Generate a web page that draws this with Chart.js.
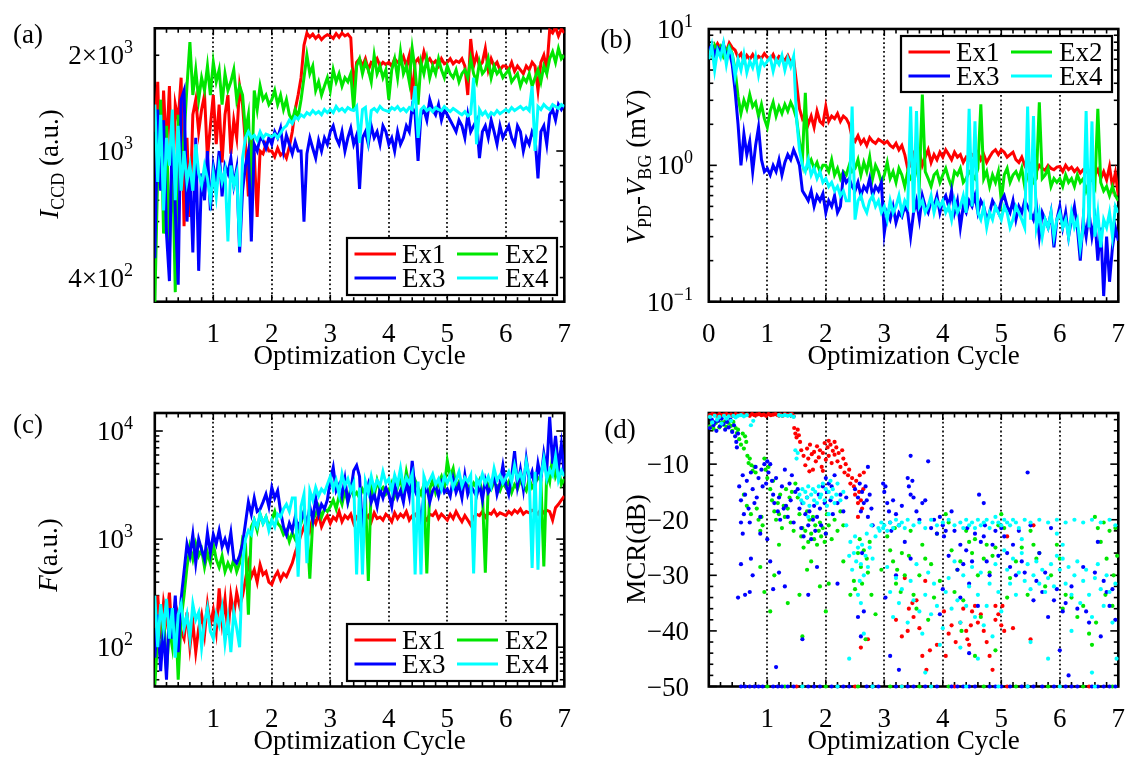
<!DOCTYPE html>
<html><head><meta charset="utf-8">
<script src="https://cdn.jsdelivr.net/npm/chart.js@4/dist/chart.umd.min.js"></script>
<style>
html,body{margin:0;padding:0;background:#fff;}
#wrap{position:relative;width:1127px;height:757px;overflow:hidden;background:#fff;}
.p{position:absolute;}
canvas{display:block;}
</style></head><body>
<div id="wrap">
<div class="p" style="left:0;top:0;width:580px;height:385px"><canvas id="pa" width="580" height="385"></canvas></div>
<div class="p" style="left:580px;top:0;width:547px;height:385px"><canvas id="pb" width="547" height="385"></canvas></div>
<div class="p" style="left:0;top:385px;width:580px;height:372px"><canvas id="pc" width="580" height="372"></canvas></div>
<div class="p" style="left:580px;top:385px;width:547px;height:372px"><canvas id="pd" width="547" height="372"></canvas></div>
</div>
<script>
// ---------- categories ----------
const seriesNames = ['Ex1', 'Ex2', 'Ex3', 'Ex4'];
const cycle = Array.from({length: 141}, (_, i) => Math.round(i * 5) / 100); // optimization cycle, step 0.05
const xTickValues = [0, 1, 2, 3, 4, 5, 6, 7];
const gridCycles = [1, 2, 3, 4, 5, 6];

// ---------- (a) I_CCD (a.u.) ----------
const iccdEx1 = [1150,1650,780,1550,1000,1600,700,1400,1250,1700,
 580,1100,620,1300,1450,1150,1350,1500,950,1200,
 1500,1050,1400,920,1300,1500,980,1250,1100,1600,
 1400,1050,720,1050,980,620,1000,980,1050,1000,
 1000,960,1020,970,990,950,1030,1150,1350,1500,
 1700,2150,2350,2280,2330,2260,2310,2240,2290,2320,
 2300,2260,2340,2280,2350,2300,2330,2270,1550,1900,
 1950,1850,1950,1800,1900,1880,1950,1850,1900,1870,
 1900,1850,1950,1900,1880,1980,1850,2000,1450,1900,
 1950,1850,2050,1900,1950,1880,1920,1850,1950,1880,
 1900,1950,1880,1920,1900,1950,1850,1500,2250,1850,
 2000,1850,1900,2100,1800,1950,1850,1900,1800,1850,
 1850,1800,1900,1780,1850,1800,1750,1850,1800,1900,
 1850,1550,1900,2000,1800,2400,2350,2450,2300,2420,2350];
const iccdEx2 = [330,850,1450,550,1200,480,1000,360,1300,900,
 1100,1600,2200,1500,1800,1450,1700,1550,1850,1500,
 1900,1650,1800,1400,1750,1550,1650,1800,1450,1600,
 1500,1150,1300,740,1550,1350,1600,1450,1500,1400,
 1450,1550,1400,1500,1350,1450,1300,1250,1350,1280,
 1450,1700,2000,1750,1850,1550,1650,1500,1600,1700,
 1550,1800,1650,1750,1600,1700,1650,1750,1350,1850,
 1950,1750,1900,1800,1650,2000,1750,1850,1700,1800,
 1450,1800,1950,1700,2050,1750,1850,1650,2100,1800,
 1400,1900,1750,1950,1700,1850,1750,1950,1800,1700,
 1850,1750,1700,1800,1650,1750,1800,1700,1950,1750,
 1650,1900,1750,1800,1950,1700,1850,1750,1800,1700,
 1750,1800,1650,1700,1750,1600,1700,1650,1750,1600,
 1700,1800,1650,1850,1750,1950,2050,1900,2100,1950,2000];
const iccdEx3 = [460,1350,750,1250,550,390,1300,650,380,1450,
 1550,600,900,480,1100,420,850,700,1000,650,
 900,800,1000,720,900,850,950,780,880,480,
 750,900,1000,520,1050,1000,1100,1080,1020,1100,
 1050,1150,1100,1180,1000,1120,1050,980,1070,1000,
 1000,600,980,1100,1020,950,1080,1000,1100,1050,
 1150,1200,1100,1050,1150,1000,1100,1180,1050,1120,
 760,1100,1150,1050,1200,1100,1150,1050,1200,1150,
 1050,1100,1000,1150,1050,1100,1200,1150,1380,1300,
 930,1300,1350,1250,1450,1350,1300,1400,1250,1350,
 1300,1250,1200,1150,1250,1200,1100,1300,1150,1200,
 1250,950,1150,1200,1100,1250,1150,1050,1200,1100,
 1150,1200,1100,1050,1200,1150,1000,1100,1050,1150,
 1100,820,1150,1200,1050,1300,1350,1250,1400,1350,1400];
const iccdEx4 = [1400,800,1300,650,1100,900,1350,700,1200,750,
 1000,800,900,750,1050,850,780,900,820,700,
 850,720,900,800,870,520,900,780,850,500,
 950,1100,1150,1100,1120,1080,1150,1100,1130,1120,
 1110,1130,1100,1140,1180,1200,1250,1220,1280,1260,
 1300,1280,1320,1300,1340,1310,1330,1300,1350,1320,
 1350,1320,1380,1340,1360,1330,1370,1350,1340,1380,
 1060,1350,1370,1100,1340,1360,1330,1380,1350,1340,
 1330,1370,1350,1380,1340,1360,1330,1370,1350,1600,
 1100,1350,1380,1340,1360,1330,1370,1350,1340,1380,
 1350,1330,1360,1340,1320,1300,1330,1290,1310,1700,
 1050,1350,1300,1330,1280,1320,1300,1340,1310,1330,
 1350,1330,1370,1340,1360,1380,1350,1370,1340,1600,
 1000,1380,1350,1400,1370,1350,1400,1380,1360,1400,1380];

// ---------- (b) V_PD - V_BG (mV) ----------
const vpdEx1 = [6.5,7.5,7.0,7.8,7.2,7.6,6.8,7.9,7.3,7.0,
 6.2,6.6,5.8,6.4,6.0,6.5,5.9,6.3,6.1,6.6,
 6.2,6.0,6.5,5.8,6.3,6.1,5.9,6.4,5.7,6.0,
 4.0,2.6,2.2,2.4,2.0,2.3,1.9,2.5,2.1,2.0,
 2.7,2.1,2.3,2.2,2.4,2.1,2.3,2.2,2.0,1.6,
 1.5,1.65,1.45,1.55,1.4,1.6,1.5,1.45,1.55,1.5,
 1.45,1.5,1.4,1.35,1.45,1.3,1.4,1.2,0.95,1.0,
 1.2,1.05,1.25,1.0,1.15,1.3,1.05,1.2,1.1,1.25,
 1.15,1.3,1.2,1.1,1.25,1.15,1.2,1.05,1.15,1.1,
 1.2,1.15,1.25,1.1,1.2,1.05,1.15,1.25,1.3,1.2,
 1.3,1.25,1.15,1.2,1.25,1.1,1.05,1.15,1.0,1.1,
 1.0,0.95,0.9,1.0,0.95,0.92,1.0,0.95,0.93,0.97,
 0.98,0.9,1.0,0.93,0.97,0.9,0.95,0.88,0.93,0.9,
 0.88,0.95,0.85,0.93,0.8,0.9,0.78,0.98,0.7,0.88,0.6];
const vpdEx2 = [7.2,6.5,7.6,6.8,7.4,6.3,7.0,7.5,6.6,5.0,
 3.2,2.4,3.0,2.6,3.3,2.7,2.9,2.3,2.8,2.2,
 1.9,2.5,2.9,2.3,2.7,2.4,2.8,2.5,2.9,2.6,
 2.2,1.5,1.1,3.4,1.0,1.1,0.95,1.05,0.9,1.0,
 1.0,0.9,1.1,0.85,0.95,0.8,0.9,0.85,1.0,0.9,
 0.95,1.1,0.85,1.05,0.9,1.15,0.8,1.0,0.9,0.75,
 0.85,1.05,0.8,0.9,0.75,0.95,0.85,0.7,0.9,0.8,
 0.85,0.95,0.75,3.3,0.9,0.8,0.7,0.85,0.9,0.75,
 0.85,0.95,0.8,0.7,0.9,0.85,0.95,0.75,0.8,0.9,
 0.85,0.8,0.95,2.8,0.8,0.9,0.7,0.85,0.75,0.9,
 0.55,0.85,0.95,0.75,0.85,0.9,0.8,0.95,0.7,0.85,
 0.9,0.75,0.8,2.9,0.8,0.85,0.95,0.7,0.8,0.75,
 0.8,0.7,0.85,0.75,0.8,0.7,0.85,0.75,0.8,0.65,
 0.75,0.8,0.7,2.6,0.75,0.65,0.7,0.6,0.7,0.6,0.55];
const vpdEx3 = [7.0,7.6,6.5,7.3,6.8,7.8,6.2,7.0,5.5,3.5,
 2.0,1.0,1.7,1.2,1.5,0.9,1.4,1.9,1.1,0.9,
 0.95,0.85,1.0,0.9,1.1,0.85,1.05,1.2,1.1,1.3,
 1.15,1.0,0.65,0.6,0.55,0.65,0.5,0.6,0.55,0.62,
 0.45,0.55,0.5,0.6,0.45,0.5,0.85,0.75,0.8,0.7,
 0.65,0.75,0.6,0.7,0.65,0.8,0.6,0.7,0.65,0.75,
 0.32,0.45,0.4,0.5,0.38,0.45,0.42,0.5,0.45,0.3,
 0.45,0.55,0.4,0.6,0.5,0.45,0.55,0.5,0.6,0.45,
 0.55,0.6,0.5,0.65,0.45,0.55,0.35,0.5,0.45,0.55,
 0.5,0.6,0.45,0.55,0.5,0.4,0.45,0.55,0.5,0.45,
 0.55,0.6,0.5,0.45,0.55,0.4,0.5,0.45,0.55,0.5,
 0.45,0.4,0.5,0.3,0.45,0.4,0.35,0.45,0.25,0.4,
 0.5,0.35,0.45,0.3,0.4,0.5,0.35,0.2,0.4,0.3,
 0.45,0.3,0.4,0.2,0.35,0.11,0.3,0.14,0.25,0.35,0.28];
const vpdEx4 = [6.0,7.5,5.0,7.0,6.2,7.8,5.5,7.2,6.5,4.5,
 6.0,5.0,6.5,4.8,5.8,5.2,6.3,4.6,5.9,5.4,
 5.8,6.2,4.9,6.0,5.5,6.4,5.0,6.1,5.3,6.3,
 2.2,1.3,1.0,0.9,1.1,0.85,0.95,0.8,0.9,0.75,
 0.8,0.7,0.75,0.65,0.7,0.6,0.65,0.55,0.55,2.7,
 0.4,0.55,0.6,0.5,0.45,0.55,0.6,0.5,0.55,0.45,
 0.5,0.4,0.55,0.45,0.5,0.6,0.45,0.55,0.5,2.7,
 0.45,2.5,0.5,0.55,0.45,0.5,0.6,0.45,0.55,0.5,
 0.55,0.45,0.5,0.4,0.55,0.45,0.5,0.6,0.45,2.6,
 0.5,2.1,0.45,0.4,0.5,0.35,0.45,0.4,0.5,0.45,
 0.4,0.5,0.45,0.35,0.4,0.5,0.45,0.4,0.35,2.7,
 0.4,2.3,0.35,0.45,0.3,0.4,0.35,0.45,0.3,0.4,
 0.45,0.35,0.4,0.3,0.45,0.35,0.4,0.25,0.35,2.5,
 0.35,2.1,0.3,0.45,0.25,0.4,0.35,0.45,0.3,0.5,0.45];

// ---------- (c) F (a.u.) ----------
const fEx1 = [150,300,120,260,180,320,110,250,200,140,
 120,210,100,170,90,150,200,130,250,160,
 220,140,350,170,280,130,300,200,320,240,
 300,420,600,450,520,400,580,470,500,400,
 380,450,500,420,480,450,520,600,750,900,
 1100,1300,1500,1200,1600,1400,1700,1300,1500,1650,
 1400,1600,1500,1800,1450,1650,1550,1700,1400,1600,
 1500,1700,1550,1650,1450,1750,1550,1600,1500,1700,
 1600,1450,1750,1550,1700,1600,1800,1500,1650,1700,
 1550,1750,1600,1500,1700,1650,1800,1550,1700,1600,
 1500,1700,1550,1800,1600,1450,1650,1500,1350,1600,
 1700,1650,1800,1600,1750,1700,1850,1650,1750,1700,
 1650,1800,1700,1850,1750,1900,1700,1800,1750,1850,
 1800,1700,1900,1750,1850,1800,1500,1950,2100,2300,2500];
const fEx2 = [45,120,80,200,60,150,100,230,50,180,
 300,550,850,650,900,700,800,550,750,600,
 900,650,550,700,500,600,520,650,500,600,
 1000,900,200,1300,1500,1200,1700,1400,1600,1300,
 1500,1800,1400,1300,1100,1200,950,1150,1000,1200,
 1400,1800,1300,430,1500,1700,2000,1600,1900,1800,
 2000,2300,1900,2500,2100,2800,2200,3000,2500,2700,
 2400,2900,2600,410,3200,2500,3500,2800,3000,2600,
 2800,3300,2500,3000,3600,2700,4200,3100,2800,3500,
 3000,2600,3200,480,2900,3500,2700,3300,3800,3000,
 5300,3800,4500,3000,3400,2800,3600,3100,2900,3300,
 3000,3500,2700,490,3200,2900,3400,3100,2800,3300,
 3000,3400,2700,3200,2900,3500,3100,2800,3600,3000,
 3300,3700,3500,560,4200,3400,5800,3800,4500,3200,3600];
const fEx3 = [80,200,60,150,50,230,120,300,90,280,
 500,900,700,1100,600,1000,800,650,1150,750,
 1100,900,1200,850,1000,800,1150,650,600,700,
 900,1400,2200,1700,2400,1800,1900,2200,2600,2000,
 3000,2400,2800,1800,1300,1100,1400,1200,1600,1300,
 1500,1800,1300,2000,1500,2400,1700,2100,1900,2300,
 3500,4600,2800,3200,2500,3600,2200,2800,4300,4800,
 3800,1150,2500,3200,2200,2600,2000,2900,2400,3000,
 2600,2000,3200,2400,2800,2200,3400,2500,5300,2800,
 2400,1300,2600,3000,2200,2800,3100,2500,3300,2700,
 2900,2500,3600,2700,3200,2400,3900,2600,3100,2800,
 2500,3200,2300,3500,2700,3000,4000,2600,3300,4800,
 3200,2600,3800,6500,3100,4400,2900,5500,3500,4200,
 3000,5000,3600,6200,4300,13500,5000,9000,4500,7500,4000];
const fEx4 = [300,100,250,150,280,120,230,80,200,250,
 150,200,120,250,180,210,100,170,230,140,
 120,200,160,230,110,180,90,210,150,100,
 600,1000,1200,1100,1500,1300,1700,1400,1600,1200,
 1500,1300,1700,1600,1900,2100,1800,2400,2400,450,
 2000,2600,600,2800,2300,3000,2500,2900,2700,3200,
 3800,2900,3500,2600,4000,3100,3600,2800,3300,470,
 3000,470,3400,2700,3800,2900,3500,3100,4200,3300,
 3600,2800,3900,3200,4500,3000,3700,3300,4000,470,
 3400,470,3800,3100,3500,4000,3200,3600,2900,3800,
 3300,3900,3000,3500,4200,3100,3700,3400,3900,480,
 3600,3200,4000,3300,3800,3100,4500,3500,3900,3300,
 3700,4200,3400,4800,3600,4100,3300,5200,3800,540,
 4200,520,3800,5500,3600,4400,3900,5800,3500,4300,3800];

// ---------- (d) MCR (dB), [cycle, dB] ----------
const mcrEx1 = [[0.02,-1.2],[0.06,-1.0],[0.1,-1.1],[0.14,-1.3],[0.18,-1.0],[0.22,-1.2],[0.26,-1.1],[0.3,-1.0],[0.34,-1.2],[0.38,-1.1],[0.42,-1.3],[0.46,-1.0],[0.5,-1.2],[0.54,-1.1],[0.58,-1.0],[0.62,-1.2],[0.66,-1.1],[0.7,-1.3],[0.74,-1.0],[0.78,-1.2],[0.82,-1.1],[0.86,-1.0],[0.9,-1.2],[0.94,-1.1],[0.98,-1.3],[1.02,-1.0],[1.06,-1.2],[1.1,-1.1],[1.14,-1.0],[1.18,-1.2],[1.22,-1.1],[1.26,-1.3],[1.3,-1.0],[1.34,-1.2],[1.38,-1.1],[1.42,-1.0],[1.45,-1.4],
 [1.46,-3.5],[1.48,-4.5],[1.5,-5.2],[1.52,-3.8],[1.54,-4.8],[1.56,-6.0],[1.58,-7.5],
 [1.62,-8.5],[1.65,-10.2],[1.68,-7.2],[1.7,-9.0],[1.73,-6.5],[1.76,-8.2],[1.78,-11.0],[1.8,-7.8],[1.83,-9.5],[1.85,-6.8],[1.88,-8.8],[1.9,-7.5],[1.93,-10.5],[1.95,-8.0],[1.98,-6.2],[2.0,-9.2],[2.03,-7.0],[2.05,-8.5],[2.08,-6.5],[2.1,-9.8],[2.12,-7.6],[2.15,-8.3],[2.18,-7.0],[2.2,-9.5],[2.22,-8.0],[2.25,-10.5],[2.28,-7.5],[2.3,-9.0],[2.32,-11.5],[2.34,-10.0],[1.72,-11.3],[1.95,-11.2],[2.05,-5.8],[2.15,-6.0],
 [2.38,-12.0],[2.4,-11.0],[2.42,-13.5],[2.45,-12.5],[2.48,-14.0],[2.5,-15.5],[2.52,-13.0],[2.55,-17.0],[2.57,-15.0],[2.6,-16.5],[2.62,-18.0],[2.64,-14.5],[2.55,-19.5],[2.58,-12.0],[2.65,-11.5],
 [2.6,-43],[2.72,-41.5],[3.2,-38],[3.42,-36],[3.48,-35],[3.5,-37.5],[3.55,-34.5],[3.6,-39.5],[3.65,-44.5],[3.72,-47],[3.78,-43.5],[3.3,-41],[3.4,-40],[4.02,-36.5],[4.1,-40.5],[4.15,-39],[4.22,-42],[4.3,-38.5],[4.35,-36],[4.4,-40],[4.42,-41.5],[4.48,-39],[4.5,-36.5],[4.55,-35.5],[4.6,-38.5],[4.65,-37],[4.7,-40],[4.75,-42],[4.8,-44.5],[4.85,-47],[4.9,-38],[4.95,-37],[5.0,-39],[5.05,-40],[5.2,-39.5],[5.5,-41.5],[3.9,-42.5],[4.45,-42.5],[4.05,-44.5],[5.02,-35.5],[4.9,-35.5],[5.55,-21],[5.1,-23],[3.7,-31],[3.35,-30.5],
 [1.5,-50],[2.5,-50],[3.3,-50],[4.2,-50],[5.1,-50],[6.5,-50]];
const mcrEx2 = [[0.02,-3.2],[0.05,-2.4],[0.08,-3.6],[0.12,-2.6],[0.15,-2.2],[0.18,-3.4],[0.22,-2.5],[0.25,-2.9],[0.28,-2.3],[0.3,-3.3],[0.34,-2.6],[0.38,-3.1],[0.4,-4.0],[0.42,-2.4],[0.46,-3.5],[0.48,-4.4],[0.5,-3.8],
 [0.52,-5.5],[0.55,-6.5],[0.58,-4.5],[0.6,-7.2],[0.62,-5.0],[0.64,-6.0],[0.66,-8.5],[0.68,-9.8],[0.7,-9.0],[0.73,-10.2],[0.75,-11.2],[0.78,-10.5],[0.8,-11.5],[0.6,-15.5],[0.65,-17.5],[0.72,-19.0],
 [0.82,-18],[0.85,-20],[0.88,-22],[0.9,-19.5],[0.92,-21],[0.95,-9.0],[0.97,-11.0],[1.0,-12.5],[1.02,-10.5],[1.05,-14.5],[1.08,-16.5],[1.1,-13.0],[1.12,-18.5],[1.15,-20.0],[1.18,-17.0],[1.2,-19.0],[1.22,-15.5],[1.25,-21.5],[1.28,-17.5],[1.3,-19.5],[1.32,-14.5],[1.35,-18.0],[1.38,-16.0],[1.4,-20.5],[1.42,-15.0],[1.45,-22.0],[1.48,-13.5],[0.88,-28.5],[0.95,-33.0],[1.05,-36.5],[1.12,-30.0],[1.2,-24.5],[1.35,-35.0],
 [1.52,-16.0],[1.55,-19.0],[1.58,-23.0],[1.6,-21.5],[1.62,-25.0],[1.65,-22.0],[1.68,-18.5],[1.7,-24.0],[1.72,-20.0],[1.75,-22.5],[1.78,-19.5],[1.8,-23.5],[1.82,-21.0],[1.85,-24.5],[1.88,-22.0],[1.9,-20.5],[1.92,-23.0],[1.95,-21.5],[1.98,-24.0],[2.0,-22.5],[2.02,-19.0],[2.05,-21.0],[2.1,-23.5],[2.15,-20.0],[2.2,-22.0],[2.25,-18.5],[2.3,-21.0],[1.55,-33.5],[1.6,-41.0],[1.68,-29.0],[1.9,-32.0],[2.0,-36.5],[2.05,-31.5],[2.3,-27.5],[1.75,-27.5],
 [2.42,-33.5],[2.48,-31.0],[2.55,-26.0],[2.6,-28.5],[2.65,-25.5],[2.7,-27.0],[2.72,-29.5],[2.75,-24.0],[2.68,-41.5],[2.5,-32.5],[2.78,-33.5],[2.85,-37.0],[2.95,-29.0],[2.58,-23.5],[2.62,-31.5],
 [3.05,-23.0],[3.1,-25.5],[3.15,-27.5],[3.2,-31.5],[3.18,-21.5],[3.22,-29.0],[3.28,-33.0],[3.3,-26.0],[3.35,-30.0],[3.42,-26.5],[3.45,-22.0],[3.5,-33.5],[3.55,-36.0],[3.6,-30.0],[3.65,-24.5],[3.7,-27.0],[3.75,-38.0],[3.8,-28.0],[3.85,-34.0],[3.9,-22.5],[3.95,-31.0],
 [4.05,-19.0],[4.1,-20.5],[4.15,-25.5],[4.2,-33.0],[4.25,-29.0],[4.3,-27.5],[4.35,-34.5],[4.4,-22.0],[4.45,-24.0],[4.5,-26.0],[4.55,-23.5],[4.6,-30.0],[4.65,-37.5],[4.7,-27.0],[4.75,-24.5],[4.8,-29.5],[4.85,-26.5],[4.9,-25.0],[4.95,-21.0],[5.0,-19.0],[4.32,-40.0],[4.55,-44.5],[4.9,-43.5],
 [5.05,-21.5],[5.1,-34.0],[5.15,-30.5],[5.25,-27.5],[5.35,-25.0],[5.45,-33.5],[5.5,-22.0],[5.55,-24.5],[5.6,-27.0],[5.65,-26.0],[5.75,-32.0],[5.85,-30.0],[5.95,-24.5],[6.0,-27.0],[6.05,-36.0],[6.1,-33.5],[6.2,-34.0],[6.3,-37.5],[6.4,-35.5],[6.5,-40.5],[6.55,-42.5],[6.6,-19.5],[6.65,-21.5],[6.7,-24.0],[6.75,-20.5],[6.8,-27.0],[6.85,-22.0],[6.9,-35.5],[6.95,-21.5],[6.98,-26.5],[6.92,-30.0],[6.78,-33.5],[6.62,-38.5],
 [1.0,-50],[1.3,-50],[2.0,-50],[2.55,-50],[3.1,-50],[3.6,-50],[4.1,-50],[4.7,-50],[5.25,-50],[5.8,-50],[6.4,-50],[6.9,-50]];
const mcrEx3 = [[0.02,-3.5],[0.05,-2.0],[0.08,-3.0],[0.1,-2.5],[0.13,-4.0],[0.16,-2.2],[0.19,-3.2],[0.22,-1.8],[0.25,-2.8],[0.28,-3.8],[0.31,-2.4],[0.34,-3.4],[0.37,-2.0],[0.4,-4.2],[0.43,-3.0],[0.45,-5.0],[0.47,-6.0],[0.48,-7.0],[0.5,-4.5],
 [0.52,-14.0],[0.55,-16.5],[0.58,-12.0],[0.6,-19.0],[0.62,-15.5],[0.65,-13.0],[0.68,-18.0],[0.7,-20.5],[0.72,-11.5],[0.75,-14.5],[0.78,-17.0],[0.8,-10.5],[0.82,-16.0],[0.85,-12.5],[0.88,-19.5],[0.9,-11.0],[0.92,-14.0],[0.95,-10.0],[0.98,-13.5],[0.55,-20.5],[0.58,-22.5],[0.5,-34.0],[0.62,-33.5],[0.7,-33.0],[0.75,-30.0],[0.72,-27.0],[0.55,-28.0],[0.88,-22.5],
 [1.0,-9.5],[1.02,-11.5],[1.05,-10.0],[1.08,-13.0],[1.1,-15.5],[1.12,-17.0],[1.15,-12.5],[1.18,-18.5],[1.2,-16.0],[1.22,-20.0],[1.25,-14.0],[1.28,-18.0],[1.3,-11.0],[1.32,-17.5],[1.35,-19.5],[1.38,-13.5],[1.4,-16.5],[1.42,-12.0],[1.45,-20.5],[1.48,-15.0],[1.0,-23.5],[1.05,-27.5],[1.1,-32.5],[1.15,-46.5],[1.3,-32.0],[1.2,-29.5],
 [1.52,-14.5],[1.55,-18.0],[1.58,-21.5],[1.6,-17.0],[1.62,-23.0],[1.65,-19.0],[1.68,-16.0],[1.7,-21.0],[1.72,-18.5],[1.75,-23.5],[1.78,-20.0],[1.8,-17.5],[1.82,-22.0],[1.85,-19.5],[1.88,-15.5],[1.9,-18.0],[1.92,-21.0],[1.95,-14.0],[1.98,-17.0],[2.0,-12.5],[2.02,-15.0],[2.05,-13.5],[2.08,-16.5],[2.1,-14.0],[2.12,-19.0],[2.15,-12.0],[2.2,-17.0],[2.25,-15.5],[2.3,-18.5],[2.35,-16.0],[1.6,-41.5],[1.7,-33.5],[1.85,-28.5],[2.2,-31.5],[2.0,-22.5],
 [2.5,-14.5],[2.55,-16.0],[2.58,-13.5],[2.6,-18.5],[2.62,-15.0],[2.65,-17.0],[2.68,-14.0],[2.7,-16.5],[2.72,-19.5],[2.75,-15.5],[2.78,-18.0],[2.8,-21.0],[2.72,-10.5],[2.62,-26.0],[2.55,-37.5],[2.6,-41.0],[2.65,-36.5],
 [2.98,-13.5],[3.0,-15.0],[3.02,-14.0],[3.05,-17.0],[3.08,-18.5],[3.1,-20.5],[3.12,-22.0],[3.15,-16.5],[3.2,-19.0],[3.25,-21.0],[3.3,-17.5],[3.35,-24.0],[3.4,-12.5],[3.42,-14.0],[3.45,-15.5],[3.48,-13.0],[3.5,-16.0],[3.45,-8.5],[3.55,-18.5],[3.6,-20.0],[3.65,-17.0],[3.7,-16.5],[3.75,-9.5],[3.02,-34.0],[3.1,-44.5],[3.25,-47.0],[3.2,-30.0],[3.45,-27.0],
 [3.8,-21.5],[3.85,-20.0],[3.9,-22.5],[3.95,-19.5],[4.0,-21.0],[4.02,-23.0],[4.05,-22.0],[4.1,-26.5],[4.15,-18.5],[4.2,-22.0],[4.25,-29.0],[4.3,-24.5],[4.35,-28.0],[4.4,-25.5],[4.42,-21.5],[4.45,-31.5],[4.5,-27.5],[4.55,-22.5],[4.6,-35.5],[4.65,-24.0],[4.7,-23.0],[4.72,-21.0],[4.75,-27.5],[4.8,-30.0],[4.85,-24.5],[4.9,-22.0],[4.95,-26.5],[5.0,-21.5],[4.0,-32.5],[4.3,-34.0],[4.45,-44.0],[4.62,-15.5],[4.7,-17.0],[3.95,-37.0],
 [5.05,-23.0],[5.1,-26.0],[5.15,-28.5],[5.2,-24.5],[5.25,-30.0],[5.3,-22.0],[5.35,-27.5],[5.45,-11.5],[5.5,-21.0],[5.55,-34.5],[5.6,-31.0],[5.65,-26.0],[5.7,-33.0],[5.75,-29.5],[5.8,-37.5],[5.9,-34.5],[5.95,-32.5],[6.0,-43.5],[6.05,-36.5],[6.1,-35.0],[6.15,-48.0],[6.2,-32.0],[6.3,-36.0],[6.45,-36.5],[6.5,-38.5],[6.6,-29.5],[6.65,-24.0],[6.7,-41.0],[6.75,-31.0],[6.8,-33.0],[6.85,-35.5],[6.9,-32.5],[6.95,-38.0],[5.4,-29.5],[5.85,-21.5],[6.4,-28.5],
 [0.55,-50],[0.62,-50],[0.7,-50],[0.78,-50],[0.85,-50],[0.92,-50],[1.1,-50],[1.18,-50],[1.25,-50],[1.35,-50],[1.45,-50],[1.7,-50],[1.8,-50],[1.9,-50],[2.1,-50],[2.2,-50],[2.3,-50],[2.4,-50],[2.7,-50],[2.8,-50],[2.9,-50],[3.2,-50],[3.4,-50],[3.5,-50],[3.7,-50],[3.9,-50],[4.15,-50],[4.25,-50],[4.35,-50],[4.45,-50],[4.55,-50],[4.8,-50],[4.9,-50],[5.0,-50],[5.15,-50],[5.35,-50],[5.45,-50],[5.55,-50],[5.7,-50],[5.9,-50],[6.1,-50],[6.2,-50],[6.3,-50],[6.55,-50],[6.65,-50],[6.75,-50],[6.85,-50],[6.95,-50]];
const mcrEx4 = [[0.02,-1.5],[0.06,-2.5],[0.1,-1.3],[0.14,-2.0],[0.18,-1.5],[0.22,-2.7],[0.26,-1.3],[0.3,-1.8],[0.34,-1.4],[0.38,-2.2],[0.42,-1.3],[0.46,-1.6],[0.5,-1.3],[0.55,-1.2],[0.6,-1.4],[0.65,-1.2],[0.72,-3.0],[0.76,-2.2],[1.2,-1.2],[1.25,-1.3],[1.3,-1.2],[1.35,-1.3],[1.4,-1.2],[1.45,-1.5],
 [1.48,-7.5],[1.5,-9.0],[1.52,-8.0],
 [1.55,-15.5],[1.58,-16.5],[1.6,-14.5],[1.62,-17.0],[1.65,-15.0],[1.68,-16.0],[1.7,-14.0],[1.72,-17.5],[1.75,-15.5],[1.78,-14.5],[1.8,-16.5],[1.82,-15.0],[1.85,-17.0],[1.88,-14.0],[1.9,-16.0],[1.92,-15.5],[1.95,-13.5],[1.98,-16.5],[2.0,-14.5],[2.02,-17.5],[2.05,-15.0],[2.08,-13.0],[2.1,-16.0],[2.12,-14.5],[2.15,-17.0],[2.18,-15.5],[2.2,-13.5],[2.25,-16.5],[2.3,-15.0],[2.05,-19.0],[1.7,-19.5],
 [2.35,-21.0],[2.4,-26.5],[2.42,-24.0],[2.45,-29.0],[2.48,-26.0],[2.5,-23.0],[2.52,-27.5],[2.55,-25.0],[2.58,-31.0],[2.6,-28.0],[2.62,-24.5],[2.65,-30.0],[2.68,-26.5],[2.7,-22.5],[2.72,-28.5],[2.75,-25.0],[2.78,-21.0],[2.8,-27.0],[2.85,-23.0],[2.9,-21.5],[2.92,-22.0],[2.95,-20.5],[2.98,-21.5],[2.4,-45.0],[2.55,-33.5],[2.6,-35.0],[2.65,-40.5],
 [3.0,-21.0],[3.05,-22.0],[3.1,-20.5],[3.15,-21.5],[3.2,-20.0],[3.25,-21.0],[3.3,-20.5],[3.35,-21.5],[3.4,-20.0],[3.5,-21.0],[3.6,-20.5],[3.7,-21.5],[3.8,-20.0],[3.9,-21.0],[4.0,-20.5],[4.1,-20.0],[4.2,-21.0],[4.3,-20.5],[4.35,-21.5],[4.4,-20.0],[4.45,-21.0],[4.5,-20.5],[4.55,-21.5],[4.6,-20.0],[4.65,-21.0],[4.7,-20.5],[4.75,-20.0],[4.8,-21.5],[4.85,-20.5],[4.9,-19.5],[4.95,-20.5],[5.0,-21.0],[5.05,-20.0],[5.1,-20.5],[5.15,-21.0],[5.2,-20.0],[5.25,-20.5],[5.3,-21.5],[5.4,-20.0],[5.5,-20.5],[5.65,-20.0],[5.8,-20.5],[5.95,-20.0],[6.1,-20.5],[6.25,-20.0],[6.4,-20.5],[6.55,-20.0],[6.7,-20.5],[6.85,-20.0],[6.95,-21.0],
 [3.05,-28.5],[3.1,-33.0],[3.15,-37.5],[3.2,-30.5],[3.25,-35.0],[3.3,-32.5],[3.4,-38.5],[3.45,-31.0],[3.5,-34.5],[3.55,-28.0],[3.6,-36.5],[3.65,-40.5],[3.7,-33.5],[3.75,-29.5],[3.8,-37.0],[3.85,-31.5],[3.9,-35.5],[3.95,-42.5],[4.0,-39.5],[4.05,-33.0],[4.1,-30.5],[4.15,-36.0],[4.2,-27.5],[4.25,-34.5],[4.3,-38.5],[4.35,-30.0],[4.4,-35.5],[4.45,-32.0],[4.5,-28.5],[4.55,-37.5],[4.6,-33.5],[4.65,-29.5],[4.7,-39.0],[4.75,-35.5],[4.8,-31.5],[4.85,-41.0],[4.9,-28.0],[4.95,-33.0],[5.0,-36.5],[5.05,-25.5],[5.1,-29.0],[5.15,-31.5],[5.2,-27.0],[5.25,-33.5],[5.3,-29.5],[5.35,-26.0],[5.4,-31.0],[5.45,-28.0],[5.5,-32.5],[5.55,-30.0],[5.6,-27.5],[5.65,-31.5],[5.7,-29.0],[5.75,-33.0],[5.8,-30.5],[5.85,-28.0],[5.9,-32.0],[5.95,-26.5],[6.0,-29.0],[6.05,-27.0],[6.1,-31.5],[6.15,-28.5],[6.2,-33.5],[6.25,-30.0],[6.3,-27.5],[6.35,-35.0],[6.4,-31.0],[6.45,-29.0],[6.5,-33.5],[6.55,-37.5],[6.6,-30.5],[6.65,-28.0],[6.7,-32.5],[6.75,-35.5],[6.8,-30.0],[6.85,-33.0],[6.9,-38.5],[6.95,-31.5],[3.7,-47.5],[4.6,-45.0],[5.8,-45.0],[6.55,-47.5],[6.97,-45.0],[4.3,-43.0],[5.5,-42.0],[6.2,-40.0],[5.35,-23.5],[6.05,-24.5],[5.95,-22.5],
 [1.6,-50],[2.2,-50],[2.8,-50],[3.3,-50],[3.8,-50],[4.4,-50],[4.95,-50],[5.45,-50],[6.0,-50],[6.6,-50]];

// ---------- rendering ----------
const COLORS = ['#ff0000', '#00e600', '#0000ff', '#00ffff'];
const SERIF = "'Liberation Serif', 'Times New Roman', serif";
const fnt = (s, it) => (it ? 'italic ' : '') + s + 'px ' + SERIF;
const BASE = 27, SMALL = 18;
function runW(ctx, runs) { let w = 0; for (const r of runs) { ctx.font = fnt(r.sub || r.sup ? SMALL : BASE, r.it); w += ctx.measureText(r.t).width; } return w; }
function runDraw(ctx, runs, x, y) { for (const r of runs) { ctx.font = fnt(r.sub || r.sup ? SMALL : BASE, r.it); const dy = r.sub ? 6 : (r.sup ? -11 : 0); ctx.fillText(r.t, x, y + dy); x += ctx.measureText(r.t).width; } }
const sup = (a, b) => [{t: a}, {t: b, sup: 1}];
const range = (a, b, s) => { const r = []; for (let v = a; v <= b + 1e-9; v += s) r.push(Math.round(v * 1000) / 1000); return r; };

const DECO = {
  pa: { label: '(a)', labelPos: [28, 36], title: [{t: 'I', it: 1}, {t: 'CCD', sub: 1}, {t: ' (a.u.)'}], titlePos: [49, 164],
        yLabels: [{v: 400, r: sup('4×10', '2')}, {v: 1000, r: sup('10', '3')}, {v: 2000, r: sup('2×10', '3')}], yLabelRight: 133,
        yMajor: [1000], yMinor: [400, 500, 600, 700, 800, 900, 2000], legend: {left: 347, top: 238, w: 210, h: 57} },
  pb: { label: '(b)', labelPos: [36, 41], title: [{t: 'V', it: 1}, {t: 'PD', sub: 1}, {t: '-'}, {t: 'V', it: 1}, {t: 'BG', sub: 1}, {t: ' (mV)'}], titlePos: [56, 167],
        yLabels: [{v: 0.1, r: sup('10', '−1')}, {v: 1, r: sup('10', '0')}, {v: 10, r: sup('10', '1')}], yLabelRight: 113,
        yMajor: [0.1, 1, 10], yMinor: [0.2, 0.3, 0.4, 0.5, 0.6, 0.7, 0.8, 0.9, 2, 3, 4, 5, 6, 7, 8, 9], legend: {left: 321, top: 36, w: 211, h: 56} },
  pc: { label: '(c)', labelPos: [28, 41], title: [{t: 'F', it: 1}, {t: '(a.u.)'}], titlePos: [48, 170],
        yLabels: [{v: 100, r: sup('10', '2')}, {v: 1000, r: sup('10', '3')}, {v: 10000, r: sup('10', '4')}], yLabelRight: 133,
        yMajor: [100, 1000, 10000], yMinor: [50, 60, 70, 80, 90, 200, 300, 400, 500, 600, 700, 800, 900, 2000, 3000, 4000, 5000, 6000, 7000, 8000, 9000], legend: {left: 347, top: 239, w: 210, h: 57} },
  pd: { label: '(d)', labelPos: [40, 46], title: [{t: 'MCR(dB)'}], titlePos: [56, 164],
        yLabels: [-10, -20, -30, -40, -50].map(v => ({v, r: [{t: '−' + Math.abs(v)}]})), yLabelRight: 109,
        yMajor: [-50, -40, -30, -20, -10], yMinor: range(-48, -2, 2).filter(v => v % 10 !== 0), legend: null }
};

const seg = (ctx, x1, y1, x2, y2) => { ctx.beginPath(); ctx.moveTo(x1, y1); ctx.lineTo(x2, y2); ctx.stroke(); };
const decoPlugin = {
  id: 'deco',
  beforeDatasetsDraw(chart) {
    const o = DECO[chart.canvas.id];
    const {ctx, chartArea: a, scales: {x, y}} = chart;
    ctx.save();
    ctx.strokeStyle = '#111'; ctx.lineWidth = 1.8; ctx.setLineDash([1.8, 2.6]);
    for (const v of gridCycles) { const px = Math.round(x.getPixelForValue(v)); seg(ctx, px, a.top, px, a.bottom); }
    ctx.setLineDash([]);
    ctx.strokeStyle = '#000'; ctx.lineWidth = 1.6;
    for (let k = 0; k <= 35; k++) { const v = k * 0.2; const L = (k % 5 === 0) ? 7 : 4.5; const px = x.getPixelForValue(v); seg(ctx, px, a.bottom, px, a.bottom - L); seg(ctx, px, a.top, px, a.top + L); }
    for (const v of o.yMajor) { const py = y.getPixelForValue(v); seg(ctx, a.left, py, a.left + 8, py); seg(ctx, a.right, py, a.right - 8, py); }
    for (const v of o.yMinor) { const py = y.getPixelForValue(v); seg(ctx, a.left, py, a.left + 4.5, py); seg(ctx, a.right, py, a.right - 4.5, py); }
    ctx.lineWidth = 2.6; ctx.strokeRect(a.left, a.top, a.right - a.left, a.bottom - a.top);
    ctx.restore();
  },
  afterDatasetsDraw(chart) {
    const o = DECO[chart.canvas.id];
    const {ctx, scales: {y}} = chart;
    ctx.save();
    ctx.fillStyle = '#000'; ctx.textAlign = 'left'; ctx.textBaseline = 'alphabetic';
    if (o.legend) {
      const L = o.legend;
      ctx.fillStyle = '#fff'; ctx.fillRect(L.left, L.top, L.w, L.h);
      ctx.strokeStyle = '#000'; ctx.lineWidth = 2.2; ctx.strokeRect(L.left, L.top, L.w, L.h);
      const cols = [[7.5, 49, 55], [110, 151, 158]], rows = [16, 40];
      chart.data.datasets.forEach((d, i) => {
        const c = cols[i % 2], r = rows[Math.floor(i / 2)];
        ctx.strokeStyle = d.borderColor; ctx.lineWidth = 3; seg(ctx, L.left + c[0], L.top + r, L.left + c[1], L.top + r);
        ctx.fillStyle = '#000'; ctx.font = fnt(BASE); ctx.fillText(d.label, L.left + c[2], L.top + r + 9);
      });
    }
    ctx.fillStyle = '#000';
    for (const lab of o.yLabels) { const py = y.getPixelForValue(lab.v); const w = runW(ctx, lab.r); runDraw(ctx, lab.r, o.yLabelRight - w, py + 9); }
    ctx.save(); ctx.translate(o.titlePos[0], o.titlePos[1]); ctx.rotate(-Math.PI / 2);
    const tw = runW(ctx, o.title); runDraw(ctx, o.title, -tw / 2, 9); ctx.restore();
    ctx.font = fnt(BASE); ctx.textAlign = 'center'; ctx.textBaseline = 'middle';
    ctx.fillText(o.label, o.labelPos[0], o.labelPos[1]);
    ctx.restore();
  }
};

function options(g, yScale) {
  return {
    responsive: false, animation: false, devicePixelRatio: 1, events: [],
    layout: {padding: {left: 0, top: g.top, right: g.right, bottom: 0}},
    plugins: {legend: {display: false}, tooltip: {enabled: false}},
    scales: {
      x: { type: 'linear', min: 0, max: 7,
        afterBuildTicks: s => { s.ticks = xTickValues.map(v => ({value: v})); },
        ticks: { color: '#000', font: {family: SERIF, size: 27}, padding: 9, maxRotation: 0, autoSkip: false,
                 callback: v => (g.hideZero && v === 0) ? '' : String(v) },
        grid: {display: false}, border: {display: false},
        title: { display: true, text: 'Optimization Cycle', color: '#000', font: {family: SERIF, size: 27, lineHeight: 1}, padding: {top: 0, bottom: g.titlePad} },
        afterFit: s => { s.height = g.xh; s.paddingLeft = 0; s.paddingRight = 0; } },
      y: Object.assign({ ticks: {display: false}, grid: {display: false}, border: {display: false}, afterFit: s => { s.width = g.yw; s.paddingTop = 0; s.paddingBottom = 0; } }, yScale)
    }
  };
}

function lineChart(id, series, g, yScale) {
  return new Chart(document.getElementById(id), {
    type: 'line',
    data: { labels: cycle, datasets: series.map((s, i) => ({ label: seriesNames[i], data: s, borderColor: COLORS[i], backgroundColor: COLORS[i], borderWidth: 3, pointRadius: 0, tension: 0, fill: false, order: 3 - i })) },
    options: options(g, yScale),
    plugins: [decoPlugin]
  });
}

const gTop = {top: 28.3, xh: 83.3, titlePad: 14.5};
lineChart('pa', [iccdEx1, iccdEx2, iccdEx3, iccdEx4], Object.assign({yw: 154.8, right: 15.7, hideZero: true}, gTop), {type: 'logarithmic', min: 335.9, max: 2431});
lineChart('pb', [vpdEx1, vpdEx2, vpdEx3, vpdEx4], Object.assign({yw: 128.8, right: 8.7, hideZero: false}, gTop, {top: 29}), {type: 'logarithmic', min: 0.1, max: 10});
lineChart('pc', [fEx1, fEx2, fEx3, fEx4], {yw: 154.8, right: 15.7, hideZero: true, top: 28, xh: 70.5, titlePad: 1.5}, {type: 'logarithmic', min: 43.3, max: 14678});

new Chart(document.getElementById('pd'), {
  type: 'scatter',
  data: { datasets: [mcrEx1, mcrEx2, mcrEx3, mcrEx4].map((s, i) => ({ label: seriesNames[i], data: s, backgroundColor: COLORS[i], borderColor: COLORS[i], pointRadius: 2.1, pointBorderWidth: 0, showLine: false, clip: false, order: 3 - i })) },
  options: options({yw: 128.8, right: 8.7, hideZero: true, top: 28, xh: 70.5, titlePad: 1.5}, {type: 'linear', min: -50, max: -0.8}),
  plugins: [decoPlugin]
});
</script>
</body></html>
